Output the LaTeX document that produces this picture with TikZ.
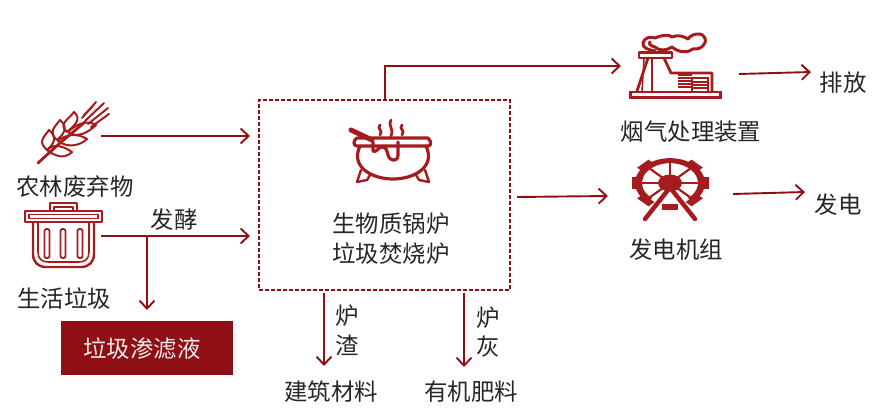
\documentclass[tikz,border=0pt]{standalone}
\usepackage{fontspec}
\newfontfamily\cjk{Noto Sans CJK SC}
\usetikzlibrary{arrows.meta,calc}
\definecolor{dred}{HTML}{A51C1F}
\definecolor{lred}{HTML}{8E1014}
\tikzset{
  flow/.style={draw=lred,line width=1.9pt,-{Straight Barb[length=8pt,width=15pt,line width=1.9pt]}},
  lbl/.style={font=\cjk\fontsize{23.4}{27}\selectfont,text=black!85,inner sep=0pt,align=center},
  ico/.style={draw=dred,line width=2pt,line join=round,line cap=round,fill=none},
  icb/.style={draw=dred,line width=3.2pt,line join=round,line cap=round,fill=none}
}
\begin{document}
\begin{tikzpicture}[x=1pt,y=-1pt]
\useasboundingbox (0,0) rectangle (880,417);
% wheat
\draw[icb,line width=2.8pt] (38,163) -- (60,143) -- (85,122);
\foreach \a/\b/\c/\d in {47/150/49/130,57/140/60/120,67/132/74/112}{
  \draw[ico] (\a,\b) .. controls ($(\a,\b)+(-9,-8)$) and ($(\c,\d)+(-6,8)$) .. (\c,\d)
     .. controls ($(\c,\d)+(8,7)$) and ($(\a,\b)+(8,-7)$) .. (\a,\b);
}
\foreach \a/\b/\c/\d in {47/150/72/152,58/141/87/139,68/132/96/125}{
  \draw[ico] (\a,\b) .. controls ($(\a,\b)+(7,-7)$) and ($(\c,\d)+(-9,-6)$) .. (\c,\d)
     .. controls ($(\c,\d)+(-7,7)$) and ($(\a,\b)+(9,7)$) .. (\a,\b);
}
\foreach \a/\b/\c/\d in {82/118/96/102,85/121/104/103,88/124/108/108,91/127/109/114,84/115/93/106}{
  \draw[ico,line width=2pt] (\a,\b) -- (\c,\d);
}
% trash can
\draw[ico,line width=2.4pt] (50,211) -- (50,203) -- (77,203) -- (77,211);
\draw[ico,line width=1.6pt] (54,211) -- (54,207) -- (73,207) -- (73,211);
\draw[ico,line width=2.4pt] (25,211) rectangle (102,222);
\draw[ico,line width=1.5pt] (29,214.5) rectangle (98,218.5);
\draw[ico,line width=2.4pt] (33,222) -- (33,254) .. controls (33,262) and (38,267) .. (46,267) -- (81,267) .. controls (89,267) and (94,262) .. (94,254) -- (94,222);
\draw[ico,line width=1.6pt] (38,222) -- (38,252) .. controls (38,259) and (42,262) .. (48,262) -- (79,262) .. controls (85,262) and (89,259) .. (89,252) -- (89,222);
\foreach \x in {47,63,80}{
  \draw[ico,line width=1.8pt,rounded corners=2pt] (\x-2.5,229) rectangle (\x+2.5,258);
}
% pot
\draw[icb,line width=5pt] (351,130) -- (372,140);
\draw[icb] (357,138) -- (428,138) .. controls (432,142) and (431,146) .. (428,146) -- (357,146) .. controls (353,146) and (353,140) .. (357,138);
\draw[icb] (360,146) .. controls (350,167) and (372,179) .. (393,179) .. controls (414,179) and (436,167) .. (426,146);
\draw[icb] (373,142) -- (373,151) .. controls (376,153) and (378,148) .. (381,147) .. controls (387,146) and (387,152) .. (388,155) .. controls (390,162) and (398,162) .. (398,155) -- (398,142);
\foreach \xa/\ya/\yb in {380/125/135,391/120/136,402/125/135}{
  \draw[icb,line width=2.8pt] (\xa,\ya) .. controls (\xa-4,\ya+4) and (\xa+4,\yb-5) .. (\xa,\yb);
}
\draw[icb,line width=2.4pt] (361,170) -- (357,182) -- (367,180) -- (370,175);
\draw[icb,line width=2.4pt] (425,170) -- (429,182) -- (419,180) -- (416,175);
% factory
\fill[dred] (629,91) rectangle (722,99);
\fill[white] (632,93) rectangle (719,96);
\draw[ico,line width=2.6pt] (639,52.5) rectangle (672,58);
\draw[ico,line width=2.8pt] (648,58) -- (637,91);
\draw[ico,line width=2.8pt] (652,58) -- (652,91);
\draw[ico,line width=1.5pt] (644,58) -- (642,91);
\draw[ico,line width=2.8pt] (664,58) -- (671,73) -- (712,73) -- (712,91);
\foreach \y in {75,78,81,84,87}{\draw[dred,line width=2pt] (678,\y) -- (692,\y);}
\draw[dred,line width=2.2pt] (692,78) -- (708,78) -- (708,91);
\draw[dred,line width=2pt] (692,78) -- (692,91);
\foreach \y in {82,85,88}{\draw[dred,line width=1.8pt] (693,\y) -- (707,\y);}
\draw[icb,line width=3pt] (655,51) .. controls (649,50) and (642,48) .. (643,43) .. controls (644,38) and (650,36) .. (655,38)
  .. controls (662,35) and (669,34) .. (672,37) .. controls (678,34) and (685,37) .. (688,39) .. controls (692,33) and (703,32) .. (705,38) .. controls (707,45) and (700,50) .. (693,49) .. controls (688,53) and (679,53) .. (672,47) .. controls (667,50) and (661,52) .. (655,47) .. controls (651,46) and (648,44) .. (650,42);
% wheel (wider than tall, as in the reference)
\begin{scope}[shift={(670,183)},yscale=0.71]
  \foreach \a in {0,45,135,180,225,270,315}{
    \fill[dred,rotate=\a] (30,-8) rectangle (38.5,8);
  }
  \fill[dred] (130:35) arc (130:410:35) -- (50:28) arc (410:130:28) -- cycle;
  \foreach \a in {0,45,135,180,225,270,315}{\draw[dred,line width=2.2pt] (0,0) -- (\a:29);}
  \fill[dred] (0,0) circle (12);
\end{scope}
\draw[dred,line width=4.5pt,line cap=round] (668,190) -- (645,219);
\draw[dred,line width=4.5pt,line cap=round] (672,190) -- (695,219);
\fill[dred] (664,206) rectangle (676,208);
% connectors
\node[draw=lred,line width=1.9pt,dash pattern=on 4pt off 2pt,minimum width=251pt,minimum height=190pt,inner sep=0pt] (furnace) at (384.5,195) {};
\node[fill=lred,minimum width=172pt,minimum height=54pt,inner sep=0pt] (leach) at (147,348) {};
\node[lbl,text=white!92!black] at (142,349) {垃圾渗滤液};
\coordinate (w0) at (101,136);
\coordinate (w1) at (250,136);
\coordinate (t0) at (101,236);
\coordinate (t1) at (250,236);
\coordinate (b0) at (147,236);
\coordinate (b1) at (147,310);
\coordinate (f0) at (385,99);
\coordinate (f1) at (385,66);
\coordinate (f2) at (621,66);
\coordinate (g0) at (517,197);
\coordinate (g1) at (608,196);
\coordinate (e0) at (739,74);
\coordinate (e1) at (811,72);
\coordinate (p0) at (733,194);
\coordinate (p1) at (805,192);
\coordinate (s0) at (324,293);
\coordinate (s1) at (324,366);
\coordinate (h0) at (464,293);
\coordinate (h1) at (464,367);
\draw[flow] (w0) -- (w1);
\draw[flow] (t0) -- (t1);
\draw[flow] (b0) -- (b1);
\draw[flow] (f0) -- (f1) -- (f2);
\draw[flow] (g0) -- (g1);
\draw[flow] (e0) -- (e1);
\draw[flow] (p0) -- (p1);
\draw[flow] (s0) -- (s1);
\draw[flow] (h0) -- (h1);
% labels
\node[lbl] (l1) at (75,187) {农林废弃物};
\node[lbl] (l2) at (64,299) {生活垃圾};
\node[lbl] (l3) at (174,220) {发酵};
\node[lbl] (l4) at (391,224) {生物质锅炉};
\node[lbl] (l5) at (391,254) {垃圾焚烧炉};
\node[lbl] (l6) at (691,132) {烟气处理装置};
\node[lbl] (l7) at (676,250) {发电机组};
\node[lbl] (l8) at (843,83) {排放};
\node[lbl] (l9) at (838,205) {发电};
\node[lbl] (l10) at (347,316) {炉};
\node[lbl] (l11) at (347,345) {渣};
\node[lbl] (l12) at (488,318) {炉};
\node[lbl] (l13) at (488,347) {灰};
\node[lbl] (l14) at (331,392) {建筑材料};
\node[lbl] (l15) at (471,392) {有机肥料};
\end{tikzpicture}
\end{document}
